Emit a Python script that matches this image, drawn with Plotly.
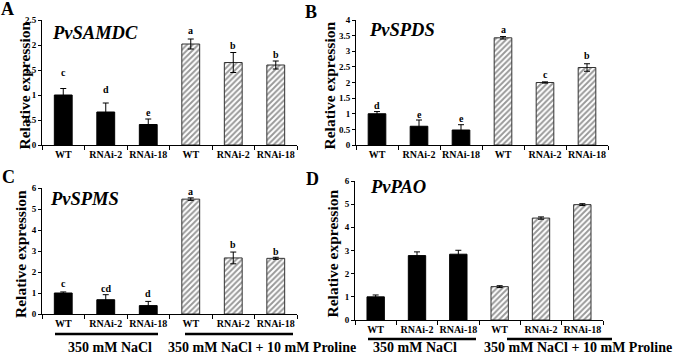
import plotly.graph_objects as go

W, H = 675, 354
FONT = "Liberation Serif"

labels = ["WT", "RNAi-2", "RNAi-18", "WT", "RNAi-2", "RNAi-18"]

genes = ["PvSAMDC", "PvSPDS", "PvSPMS", "PvPAO"]
panel_letters = ["A", "B", "C", "D"]

samdc_vals = [1.0, 0.66, 0.41, 2.02, 1.65, 1.6]
samdc_err = [0.13, 0.18, 0.11, 0.1, 0.2, 0.08]
samdc_sig = ["c", "d", "e", "a", "b", "b"]
samdc_sig_y = [1.45, 1.12, 0.66, 2.3, 2.0, 1.81]

spds_vals = [1.0, 0.6, 0.48, 3.43, 2.0, 2.48]
spds_err = [0.07, 0.2, 0.17, 0.04, 0.02, 0.12]
spds_sig = ["d", "e", "e", "a", "c", "b"]
spds_sig_y = [1.28, 0.99, 0.85, 3.7, 2.27, 2.88]

spms_vals = [1.0, 0.68, 0.4, 5.47, 2.67, 2.65]
spms_err = [0.05, 0.24, 0.2, 0.06, 0.28, 0.05]
spms_sig = ["c", "cd", "d", "a", "b", "b"]
spms_sig_y = [1.45, 1.2, 0.97, 5.82, 3.3, 2.98]

pao_vals = [1.0, 2.78, 2.84, 1.44, 4.4, 4.98]
pao_err = [0.08, 0.16, 0.17, 0.04, 0.05, 0.04]
pao_sig = ["", "", "", "", "", ""]
pao_sig_y = [0, 0, 0, 0, 0, 0]

y_max = [2.5, 4, 6, 6]
y_dtick = [0.5, 0.5, 1, 1]

group_names = ["350 mM NaCl", "350 mM NaCl + 10 mM Proline"]

# layout geometry (pixels)
panels = [
    dict(x0=42, x1=297, y0=145, y1=20, tx=24, gx=50, gy=33, lx=7, ly=9),
    dict(x0=356, x1=608, y0=145, y1=20, tx=329, gx=367, gy=30, lx=311, ly=12),
    dict(x0=42, x1=297, y0=314, y1=188, tx=20, gx=48, gy=199, lx=8, ly=177),
    dict(x0=355, x1=603, y0=320, y1=181, tx=332, gx=368, gy=187, lx=312, ly=179),
]

series = [
    (samdc_vals, samdc_err, samdc_sig, samdc_sig_y),
    (spds_vals, spds_err, spds_sig, spds_sig_y),
    (spms_vals, spms_err, spms_sig, spms_sig_y),
    (pao_vals, pao_err, pao_sig, pao_sig_y),
]

fig = go.Figure()
annotations = []
shapes = []
layout_axes = {}

def px(x):
    return x / W

def py(y):
    return 1 - y / H

def note(x, y, text, size, angle=0, xanchor="center"):
    return dict(x=px(x), y=py(y), xref="paper", yref="paper", text=text,
                textangle=angle, showarrow=False, xanchor=xanchor, yanchor="middle",
                font=dict(family=FONT, size=size, color="black"))

xs = list(range(len(labels)))
n_black = 3

for i, (vals, errs, sig, sig_y) in enumerate(series):
    k = "" if i == 0 else str(i + 1)
    xa, ya = "x" + k, "y" + k
    g = panels[i]
    # black bars (350 mM NaCl)
    fig.add_trace(go.Bar(
        x=xs[:n_black], y=vals[:n_black], xaxis=xa, yaxis=ya,
        width=0.42, marker=dict(color="black", line=dict(color="black", width=1)),
        error_y=dict(type="data", array=errs[:n_black], color="black", thickness=1, width=3),
        showlegend=False, hoverinfo="skip"))
    # hatched bars (+ proline)
    fig.add_trace(go.Bar(
        x=xs[n_black:], y=vals[n_black:], xaxis=xa, yaxis=ya,
        width=0.42,
        marker=dict(color="white", line=dict(color="#333333", width=1),
                    pattern=dict(shape="/", fgcolor="#333333", bgcolor="white",
                                 size=4, solidity=0.48)),
        error_y=dict(type="data", array=errs[n_black:], color="black", thickness=1, width=3),
        showlegend=False, hoverinfo="skip"))
    layout_axes["xaxis" + k] = dict(
        domain=[px(g["x0"]), px(g["x1"])], anchor=ya, range=[-0.5, 5.5],
        tickmode="array", tickvals=xs, ticktext=labels, ticks="",
        minor=dict(ticks="outside", tick0=-0.5, dtick=1, ticklen=4, tickcolor="black"),
        showline=True, linecolor="black", linewidth=1, showgrid=False, zeroline=False,
        automargin=False,
        tickfont=dict(family=FONT, size=10, color="black", weight="bold"))
    layout_axes["yaxis" + k] = dict(
        domain=[py(g["y0"]), py(g["y1"])], anchor=xa, range=[0, y_max[i]],
        dtick=y_dtick[i], tick0=0, ticks="outside", ticklen=3, tickcolor="black",
        showline=True, linecolor="black", linewidth=1, showgrid=False, zeroline=False,
        automargin=False,
        tickfont=dict(family=FONT, size=9, color="black", weight="bold"))
    # significance letters
    for j, s in enumerate(sig):
        if s:
            annotations.append(dict(
                x=xs[j], y=sig_y[j], xref=xa, yref=ya, text="<b>%s</b>" % s,
                showarrow=False, xanchor="center", yanchor="middle",
                font=dict(family=FONT, size=10, color="black")))
    # y-axis title
    annotations.append(note(g["tx"], (g["y0"] + g["y1"]) / 2 + 3,
                            "<b>Relative expression</b>", 15.5, angle=-90))
    # gene name
    annotations.append(note(g["gx"], g["gy"],
                            "<b><i>%s</i></b>" % genes[i], 18.5, xanchor="left"))
    # panel letter
    annotations.append(note(g["lx"], g["ly"], "<b>%s</b>" % panel_letters[i], 18))

# group underlines and labels below panels C and D
for (ly, l1, l2, c1, c2) in [(334, (55, 158), (185, 293), 110, 262),
                             (339, (368, 476), (507, 612), 415, 578)]:
    for (a, b) in (l1, l2):
        shapes.append(dict(type="line", xref="paper", yref="paper",
                           x0=px(a), x1=px(b), y0=py(ly), y1=py(ly),
                           line=dict(color="black", width=2.5)))
    for c, t in zip((c1, c2), group_names):
        annotations.append(note(c, 347, "<b>%s</b>" % t, 14))

fig.update_layout(
    width=W, height=H, margin=dict(l=0, r=0, t=0, b=0, autoexpand=False),
    paper_bgcolor="white", plot_bgcolor="white", barmode="overlay",
    annotations=annotations, shapes=shapes, **layout_axes)

fig.write_html("out.html", config={"displayModeBar": False},
               post_script="document.body.style.margin='0px';document.body.style.overflow='hidden';")
